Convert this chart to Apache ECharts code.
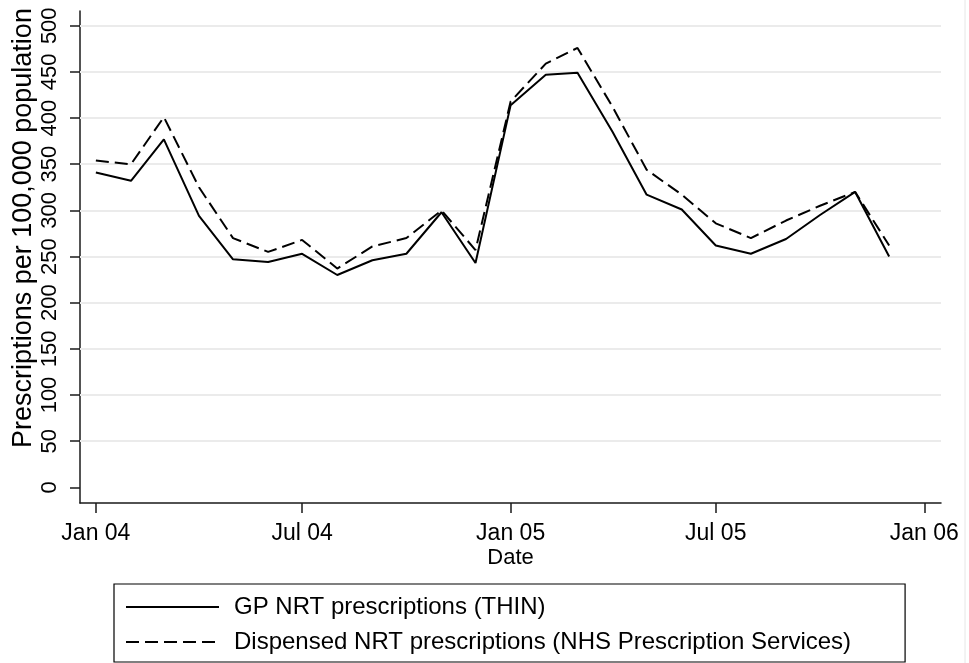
<!DOCTYPE html>
<html>
<head>
<meta charset="utf-8">
<script src="https://cdn.jsdelivr.net/npm/echarts@6/dist/echarts.min.js"></script>
<style>
html,body{margin:0;padding:0;background:#fff;}
#chart{width:969px;height:663px;}
</style>
</head>
<body>
<div id="chart"></div>
<script>
// Monthly dates (first of month), Jan 2004 - Dec 2005
const months = [
  '2004-01-01','2004-02-01','2004-03-01','2004-04-01','2004-05-01','2004-06-01',
  '2004-07-01','2004-08-01','2004-09-01','2004-10-01','2004-11-01','2004-12-01',
  '2005-01-01','2005-02-01','2005-03-01','2005-04-01','2005-05-01','2005-06-01',
  '2005-07-01','2005-08-01','2005-09-01','2005-10-01','2005-11-01','2005-12-01'
];
const gpTHIN = [341, 332, 377, 294, 247, 244, 253, 230, 246, 253, 298, 243,
                414, 447, 449, 385, 317, 301, 262, 253, 269, 295, 320, 250];
const dispensedNHS = [354, 350, 401, 325, 270, 255, 268, 237, 261, 270, 300, 257,
                      418, 459, 476, 412, 344, 317, 286, 270, 289, 305, 320, 262];
const xTickDates = ['2004-01-01','2004-07-01','2005-01-01','2005-07-01','2006-01-01'];
const xTickLabels = ['Jan 04','Jul 04','Jan 05','Jul 05','Jan 06'];
const yTicks = [0, 50, 100, 150, 200, 250, 300, 350, 400, 450, 500];
const yGridLines = [50, 100, 150, 200, 250, 300, 350, 400, 450, 500];
const seriesNames = ['GP NRT prescriptions (THIN)', 'Dispensed NRT prescriptions (NHS Prescription Services)'];
const xTitle = 'Date';
const yTitle = 'Prescriptions per 100,000 population';

function ts(s){ const p = s.split('-').map(Number); return Date.UTC(p[0], p[1]-1, p[2]); }
const xTickTs = xTickDates.map(ts);

const chart = echarts.init(document.getElementById('chart'), null, {renderer:'canvas'});
const FONT = 'Liberation Sans, Arial, sans-serif';
const axisCol = '#1a1a1a';

chart.setOption({
  animation: false,
  backgroundColor: '#ffffff',
  grid: { left: 80, right: 28, top: 11, bottom: 160, containLabel: false, outerBoundsMode: 'none' },
  xAxis: {
    type: 'value',
    min: Date.UTC(2003, 11, 18),
    max: Date.UTC(2006, 0, 15, 18),
    name: xTitle,
    nameLocation: 'middle',
    nameGap: 44,
    nameMoveOverlap: false,
    nameTextStyle: { fontFamily: FONT, fontSize: 22, color: '#000' },
    axisLine: { show: true, onZero: false, lineStyle: { color: axisCol, width: 1.5 } },
    axisTick: { show: true, length: 10, customValues: xTickTs, lineStyle: { color: axisCol, width: 1.5 } },
    axisLabel: {
      customValues: xTickTs,
      margin: 19,
      fontFamily: FONT, fontSize: 23, color: '#000',
      formatter: function (v) {
        const i = xTickTs.indexOf(v);
        return i >= 0 ? xTickLabels[i] : '';
      }
    },
    splitLine: { show: false }
  },
  yAxis: {
    type: 'value',
    min: -17,
    max: 516,
    axisLine: { show: true, onZero: false, lineStyle: { color: axisCol, width: 1.5 } },
    axisTick: { show: true, length: 10, customValues: yTicks, lineStyle: { color: axisCol, width: 1.5 } },
    axisLabel: {
      customValues: yTicks,
      rotate: 90,
      margin: 19,
      fontFamily: FONT, fontSize: 22, color: '#000'
    },
    splitLine: { show: false }
  },
  legend: {
    orient: 'vertical',
    left: 114,
    top: 584,
    data: seriesNames,
    itemWidth: 93,
    itemHeight: 14,
    itemGap: 11,
    padding: [11, 54, 8, 11],
    backgroundColor: '#fff',
    borderColor: '#000',
    borderWidth: 1.2,
    borderRadius: 0,
    itemStyle: { opacity: 0 },
    textStyle: { fontFamily: FONT, fontSize: 24, color: '#000', lineHeight: 24, padding: [0, 0, 0, 10] }
  },
  series: [
    {
      name: seriesNames[0],
      type: 'line',
      data: months.map((m, i) => [ts(m), gpTHIN[i]]),
      symbol: 'none',
      lineStyle: { color: '#000', width: 2, type: 'solid' },
      itemStyle: { color: '#000' },
      z: 3,
      markLine: {
        silent: true,
        symbol: ['none', 'none'],
        z: 1,
        label: { show: false },
        lineStyle: { color: '#ebebeb', width: 2, type: 'solid' },
        data: yGridLines.map(v => ({ yAxis: v }))
      }
    },
    {
      name: seriesNames[1],
      type: 'line',
      data: months.map((m, i) => [ts(m), dispensedNHS[i]]),
      symbol: 'none',
      lineStyle: { color: '#000', width: 2, type: [13, 6] },
      itemStyle: { color: '#000' },
      z: 3
    }
  ],
  graphic: [
    { type: 'line', shape: { x1: 965, y1: 0, x2: 965, y2: 663 }, style: { stroke: '#e6e6e6', lineWidth: 1 }, silent: true },
    {
      type: 'text',
      x: 24, y: 228,
      rotation: Math.PI / 2,
      silent: true,
      style: {
        text: yTitle,
        font: '27px "Liberation Sans", Arial, sans-serif',
        fill: '#000',
        align: 'center',
        verticalAlign: 'middle'
      }
    }
  ]
});
</script>
</body>
</html>
